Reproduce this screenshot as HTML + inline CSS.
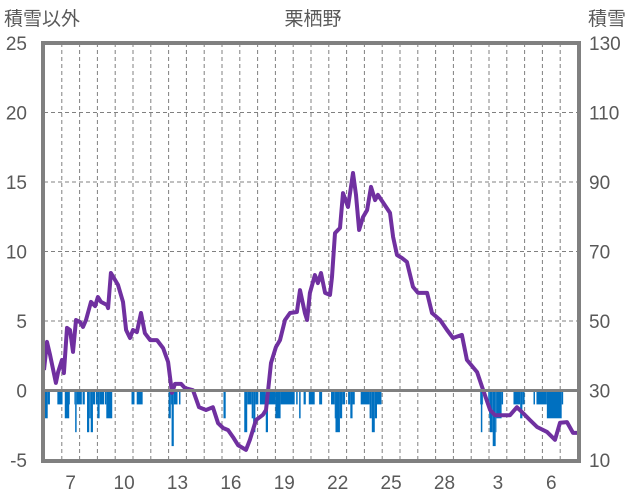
<!DOCTYPE html>
<html><head><meta charset="utf-8">
<style>
html,body{margin:0;padding:0;background:#fff;}
svg{display:block;font-family:"Liberation Sans","Noto Sans CJK JP",sans-serif;}
</style></head>
<body>
<svg id="chart" width="636" height="501" viewBox="0 0 636 501" xmlns="http://www.w3.org/2000/svg">
<text x="4" y="25" font-size="19" fill="#595959">積雪以外</text>
<text x="313" y="25" font-size="19" fill="#595959" text-anchor="middle">栗栖野</text>
<text x="588" y="25" font-size="19" fill="#595959">積雪</text>
<g id="grid"></g>
<g id="bars"></g>
<path id="line" fill="none" stroke="#7030A0" stroke-width="4" stroke-linejoin="round"/>
<g id="axes"></g>
</svg>
<script>
// ---- data ----
const xLabels = ["7","10","13","16","19","22","25","28","3","6"];
const xLabelIdx = [1,4,7,10,13,16,19,22,25,28];
const leftTicks = [-5,0,5,10,15,20,25];
const rightTicks = [10,30,50,70,90,110,130];
// snow depth (cm), time in days from start
const depthT = [0,.17,.34,.67,.79,1.01,1.12,1.29,1.46,1.63,1.8,2.02,2.19,2.36,2.64,2.87,3.03,3.2,3.54,3.6,3.76,4.16,4.44,4.61,4.83,5,5.22,5.45,5.67,5.96,6.35,6.69,6.97,7.19,7.36,7.7,7.92,8.37,8.71,9.1,9.49,9.78,10.06,10.34,10.62,10.9,11.35,11.57,11.91,12.3,12.47,12.75,13.03,13.26,13.54,13.82,14.21,14.38,14.66,14.78,14.94,15.22,15.39,15.56,15.79,16.07,16.18,16.35,16.63,16.8,17.08,17.36,17.53,17.7,17.92,18.15,18.37,18.6,18.76,19.04,19.44,19.61,19.83,20.11,20.39,20.73,21.01,21.52,21.8,22.25,22.64,22.98,23.48,23.76,24.33,24.61,25.06,25.34,26.18,26.57,26.91,27.3,27.7,28.26,28.71,28.99,29.38,29.72,30];
const depthV = [35.9,44,40.2,32.2,35.3,38.8,35,48,47.4,41.1,50.3,49.7,48.3,50.3,55.5,54.3,56.9,55.5,54.6,53.7,63.8,60.4,55.5,47.4,45.1,47.4,46.8,52.3,46.5,44.5,44.5,42.2,38.2,29.3,31.9,31.9,30.7,30.1,25.2,24.4,25.2,20.6,19.2,18.6,16.6,14.3,12.9,15.8,21.5,23,24.4,37.9,42.5,44.5,50.3,52.3,52.6,58.9,52.3,50.3,58.1,63.2,60.9,63.8,58.1,57.5,62.7,75.3,76.8,86.8,82.8,92.6,86.3,76.2,79.9,81.9,88.6,84.8,86.3,84.2,81.1,74.2,69,68.1,67,59.8,58.1,58.1,52.3,50.3,47.4,45.1,46,38.8,35.3,31,24.4,22.9,22.9,25.2,23.5,21.5,19.5,18.1,15.8,20.7,20.9,17.8,17.8];
// precipitation runs (days start/end, value)
const precStart = [.06,.06,.77,1.18,1.18,1.69,1.74,2.17,2.4,2.4,2.43,2.62,2.92,2.99,3.43,3.52,4.93,5.21,7.02,7.02,7.17,7.6,10.1,11.24,11.25,11.67,11.76,12.13,12.46,12.6,12.98,14.16,14.33,14.57,14.89,15.47,16.12,16.35,16.39,17.1,17.19,17.81,18.31,18.41,24.49,24.53,24.96,25.02,25.06,25.21,26.37,26.74,27.49,27.68,28.24,28.93];
const precEnd   = [.34,.19,1.05,1.46,1.4,2.12,1.84,2.3,2.87,2.74,2.53,2.74,3.37,3.11,3.84,3.84,5.07,5.54,7.49,7.13,7.3,7.68,10.19,12.04,11.42,11.76,11.89,12.51,12.57,14.1,13.31,14.25,14.42,14.7,15.22,15.63,16.91,16.76,16.63,17.47,17.32,18.97,18.69,18.6,24.65,24.61,25.8,25.71,25.43,25.39,27.02,26.89,27.58,29.17,28.9,29.08];
const precVal   = [-1,-2,-1,-1,-2,-1,-3,-1,-1,-2,-3,-3,-1,-2,-1,-2,-1,-1,-1,-2,-4,-1,-2,-1,-3,-2,-3,-1,-3,-1,-2,-1,-2,-1,-1,-1,-1,-2,-3,-1,-2,-1,-2,-3,-1,-3,-1,-2,-3,-4,-1,-2,-1,-1,-2,-2];

const X0=44, X1=578, NDAYS=30, TOP=43, BOT=460;
const dayW=(X1-X0)/NDAYS;
const xT=t=>X0+t*dayW;
const yL=v=>TOP+(25-v)*(BOT-TOP)/30;
const yR=v=>TOP+(130-v)*(BOT-TOP)/120;
const NS="http://www.w3.org/2000/svg";
function mk(tag,attrs,parent){const e=document.createElementNS(NS,tag);for(const k in attrs)e.setAttribute(k,attrs[k]);parent.appendChild(e);return e;}
const grid=document.getElementById('grid'), bars=document.getElementById('bars'), axes=document.getElementById('axes');

// gridlines
for(let i=1;i<NDAYS;i++){
  const l=mk('line',{x1:xT(i),x2:xT(i),y1:TOP,y2:BOT,stroke:'#808080','stroke-width':1,'stroke-dasharray':'4,3'},grid);
  
  
}
leftTicks.forEach(v=>{
  if(v===0||v===25||v===-5) return;
  const l=mk('line',{x1:X0,x2:X1,y1:yL(v),y2:yL(v),stroke:'#808080','stroke-width':1,'stroke-dasharray':'4,3'},grid);
  
  
});

// bars (hourly)
const NH=NDAYS*24, hourly=new Array(NH).fill(0);
for(let s=0;s<precStart.length;s++){
  const a=Math.round(precStart[s]*24), b=Math.round(precEnd[s]*24);
  for(let h=a;h<b&&h<NH;h++) hourly[h]=Math.min(hourly[h],precVal[s]);
}
let h=0;
while(h<NH){
  if(hourly[h]===0){h++;continue;}
  let e=h; while(e<NH&&hourly[e]===hourly[h]) e++;
  const x=xT(h/24), w=xT(e/24)-x;
  const r=mk('rect',{x:x,y:yL(0),width:w,height:yL(hourly[h])-yL(0),fill:'#0070C0'},bars);
  
  
  h=e;
}

// line
document.getElementById('line').setAttribute('d',depthT.map((t,i)=>(i?'L':'M')+xT(t).toFixed(1)+','+yR(depthV[i]).toFixed(1)).join(''));

// zero line & border
const z=mk('line',{x1:X0,x2:X1,y1:yL(0),y2:yL(0),stroke:'#808080','stroke-width':3},axes);


const b=mk('rect',{x:43,y:43,width:536,height:418,fill:'none',stroke:'#808080','stroke-width':4},axes);



leftTicks.forEach(v=>{
  const t=mk('text',{x:27,y:yL(v)+7,'font-size':19,fill:'#595959','text-anchor':'end'},axes);
  t.textContent=v;
  
  
});
rightTicks.forEach(v=>{
  const t=mk('text',{x:589,y:yR(v)+7,'font-size':19,fill:'#595959'},axes);
  t.textContent=v;
  
  
});
xLabels.forEach((s,i)=>{
  const t=mk('text',{x:xT(xLabelIdx[i]+0.5),y:489,'font-size':19,fill:'#595959','text-anchor':'middle'},axes);
  t.textContent=s;
  
  
});
</script>
</body></html>
